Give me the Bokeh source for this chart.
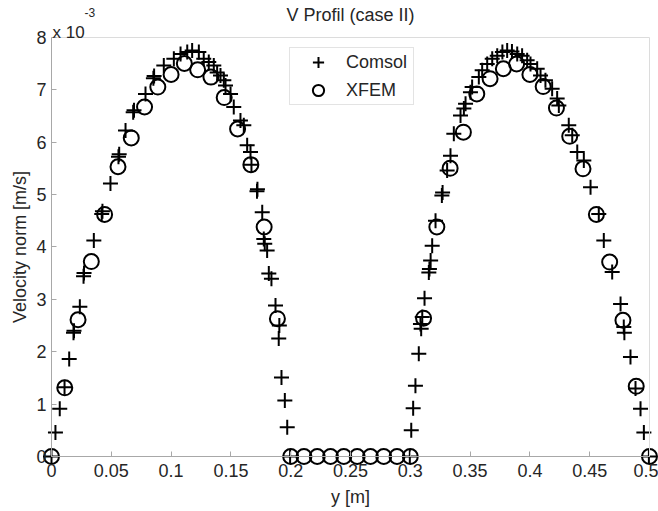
import math
from bokeh.plotting import figure
from bokeh.models import Range1d, FixedTicker, LinearAxis, Label
from bokeh.embed import file_html
from bokeh.resources import INLINE

# ---------------- data (velocity in units of 1e-3 m/s) ----------------
comsol_y = [0.0, 0.0033, 0.0069, 0.0109, 0.0148, 0.0184, 0.0188, 0.0237, 0.0268, 0.0272,
            0.0354, 0.0420, 0.0426, 0.0493, 0.0560, 0.0566, 0.0619, 0.0683, 0.0690, 0.0786,
            0.0852, 0.0858, 0.0939, 0.1023, 0.1079, 0.1135, 0.1176, 0.1232, 0.1273, 0.1315,
            0.1357, 0.1385, 0.1413, 0.1441, 0.1455, 0.1497, 0.1524, 0.1580, 0.1608, 0.1636,
            0.1664, 0.1672, 0.1718, 0.1722, 0.1762, 0.1775, 0.1783, 0.1803, 0.1817, 0.1839,
            0.1873, 0.1905, 0.1900, 0.1923, 0.1951, 0.1971, 0.1995,
            0.2996, 0.3008, 0.3024, 0.3043, 0.3071, 0.3085, 0.3091, 0.3100, 0.3119, 0.3155,
            0.3160, 0.3170, 0.3183, 0.3211, 0.3264, 0.3270, 0.3308, 0.3336, 0.3364, 0.3420,
            0.3448, 0.3462, 0.3503, 0.3517, 0.3573, 0.3601, 0.3643, 0.3685, 0.3727, 0.3770,
            0.3810, 0.3850, 0.3894, 0.3935, 0.3977, 0.4005, 0.4061, 0.4089, 0.4130, 0.4186,
            0.4228, 0.4242, 0.4325, 0.4354, 0.4396, 0.4451, 0.4507, 0.4576, 0.4618, 0.4688,
            0.4758, 0.4785, 0.4790, 0.4841, 0.4883, 0.4925, 0.4953, 0.4995]
comsol_v = [0.0, 0.46, 0.91, 1.32, 1.86, 2.36, 2.40, 2.86, 3.44, 3.50,
            4.12, 4.63, 4.68, 5.21, 5.72, 5.77, 6.22, 6.57, 6.61, 6.92,
            7.22, 7.26, 7.46, 7.59, 7.68, 7.72, 7.75, 7.72, 7.59, 7.53,
            7.46, 7.33, 7.27, 7.18, 7.08, 6.92, 6.67, 6.41, 6.32, 5.94,
            5.81, 5.57, 5.06, 5.10, 4.66, 4.15, 4.06, 3.93, 3.49, 3.39,
            2.88, 2.50, 2.25, 1.51, 1.07, 0.56, 0.0,
            0.0, 0.50, 0.92, 1.35, 1.96, 2.53, 2.44, 2.66, 3.02, 3.51,
            3.58, 3.74, 4.02, 4.50, 4.98, 5.04, 5.46, 5.74, 6.16, 6.51,
            6.64, 6.73, 6.95, 7.05, 7.24, 7.37, 7.49, 7.59, 7.65, 7.72,
            7.75, 7.73, 7.68, 7.65, 7.56, 7.49, 7.40, 7.27, 7.18, 7.02,
            6.83, 6.70, 6.32, 6.13, 5.81, 5.65, 5.14, 4.63, 4.12, 3.52,
            2.91, 2.47, 2.36, 1.90, 1.30, 0.91, 0.46, 0.0]

xfem_y = [0.0, 0.0111, 0.0222, 0.0333, 0.0444, 0.0556, 0.0667, 0.0778, 0.0889, 0.1,
          0.1111, 0.1222, 0.1333, 0.1444, 0.1556, 0.1667, 0.1778, 0.1889, 0.2, 0.2111,
          0.2222, 0.2333, 0.2444, 0.2556, 0.2667, 0.2778, 0.2889, 0.3, 0.3111, 0.3222,
          0.3333, 0.3444, 0.3556, 0.3667, 0.3778, 0.3889, 0.4, 0.4111, 0.4222, 0.4333,
          0.4444, 0.4556, 0.4667, 0.4778, 0.4889, 0.5]
xfem_v = [0.0, 1.31, 2.61, 3.72, 4.62, 5.53, 6.08, 6.67, 7.05, 7.29,
          7.50, 7.38, 7.24, 6.85, 6.25, 5.57, 4.38, 2.63, 0.0, 0.0,
          0.0, 0.0, 0.0, 0.0, 0.0, 0.0, 0.0, 0.0, 2.64, 4.38,
          5.50, 6.19, 6.92, 7.21, 7.40, 7.49, 7.29, 7.06, 6.65, 6.11,
          5.49, 4.62, 3.71, 2.60, 1.34, 0.0]

x_ticks = [0, 0.05, 0.1, 0.15, 0.2, 0.25, 0.3, 0.35, 0.4, 0.45, 0.5]
x_tick_labels = ["0", "0.05", "0.1", "0.15", "0.2", "0.25", "0.3", "0.35", "0.4", "0.45", "0.5"]
y_ticks = [0, 1, 2, 3, 4, 5, 6, 7, 8]
y_tick_labels = ["0", "1", "2", "3", "4", "5", "6", "7", "8"]

title_text = "V Profil (case II)"
x_label = "y [m]"
y_label = "Velocity norm [m/s]"

# ---------------- styling ----------------
FONT = "Liberation Sans"
TXT = "#262626"
AX = "#a8a8a8"
BOX = "#dcdcdc"

# the frame covers the whole canvas; axes are drawn at fixed data locations
p = figure(width=658, height=511,
           x_range=Range1d(-0.04264, 0.50753), y_range=Range1d(-1.0496, 8.7023),
           output_backend="svg", toolbar_location=None,
           min_border_left=0, min_border_right=0, min_border_top=0, min_border_bottom=0)
p.title.text = ""
p.title.visible = False
p.outline_line_color = None
p.grid.visible = False
p.background_fill_color = "white"
p.border_fill_color = "white"

xa = p.xaxis[0]
xa.fixed_location = 0
xa.bounds = (0, 0.5)
xa.ticker = FixedTicker(ticks=x_ticks)
xa.major_label_overrides = {t: s for t, s in zip(x_ticks, x_tick_labels)}
ya = p.yaxis[0]
ya.fixed_location = 0
ya.bounds = (0, 8)
ya.ticker = FixedTicker(ticks=y_ticks)
ya.major_label_overrides = {t: s for t, s in zip(y_ticks, y_tick_labels)}
for ax, standoff in ((xa, 7), (ya, 5)):
    ax.axis_line_color = AX
    ax.axis_line_width = 1
    ax.major_tick_line_color = AX
    ax.major_tick_in = 5
    ax.major_tick_out = 0
    ax.minor_tick_line_color = None
    ax.major_label_text_font = FONT
    ax.major_label_text_font_size = "18px"
    ax.major_label_text_color = TXT
    ax.major_label_standoff = standoff

# box lines (top and right)
top_ax = LinearAxis(fixed_location=8, bounds=(0, 0.5), ticker=FixedTicker(ticks=[]),
                    axis_line_color=BOX, major_tick_line_color=None, minor_tick_line_color=None,
                    major_tick_in=0, major_tick_out=0, major_label_standoff=0)
right_ax = LinearAxis(fixed_location=0.5, bounds=(0, 8), ticker=FixedTicker(ticks=[]),
                      axis_line_color=BOX, major_tick_line_color=None, minor_tick_line_color=None,
                      major_tick_in=0, major_tick_out=0, major_label_standoff=0)
p.add_layout(top_ax, "above")
p.add_layout(right_ax, "right")

# data
p.scatter(comsol_y, comsol_v, marker="cross", size=15, line_color="black",
          line_width=2, legend_label="Comsol")
p.scatter(xfem_y, xfem_v, marker="circle", size=15, fill_color=None,
          line_color="black", line_width=2, legend_label="XFEM")

lg = p.legend[0]
lg.location = (289, 406)
lg.margin = 0
lg.padding = 0
lg.spacing = 0
lg.glyph_height = 28
lg.glyph_width = 56
lg.label_standoff = -2
lg.label_width = 67
lg.label_height = 20
lg.border_line_color = "#c8c8c8"
lg.border_line_width = 1
lg.background_fill_color = "white"
lg.background_fill_alpha = 1
lg.label_text_font = FONT
lg.label_text_font_size = "18px"
lg.label_text_color = TXT

# texts
p.add_layout(Label(x=0.25, y=8, y_offset=22, text=title_text, text_align="center",
                   text_baseline="middle", text_font=FONT, text_font_size="18px",
                   text_color=TXT))
p.add_layout(Label(x=0, y=8, x_offset=1, y_offset=5, text="x 10", text_align="left",
                   text_baseline="alphabetic", text_font=FONT, text_font_size="17px",
                   text_color=TXT))
p.add_layout(Label(x=0, y=8, x_offset=33, y_offset=25, text="-3", text_align="left",
                   text_baseline="alphabetic", text_font=FONT, text_font_size="12px",
                   text_color=TXT))
p.add_layout(Label(x=0.25, y=0, y_offset=-40, text=x_label, text_align="center",
                   text_baseline="middle", text_font=FONT, text_font_size="18px",
                   text_color=TXT))
p.add_layout(Label(x=0, y=4, x_offset=-31, angle=math.pi / 2, text=y_label,
                   text_align="center", text_baseline="middle", text_font=FONT,
                   text_font_size="18px", text_color=TXT))

open("out.html", "w").write(file_html(p, INLINE))
